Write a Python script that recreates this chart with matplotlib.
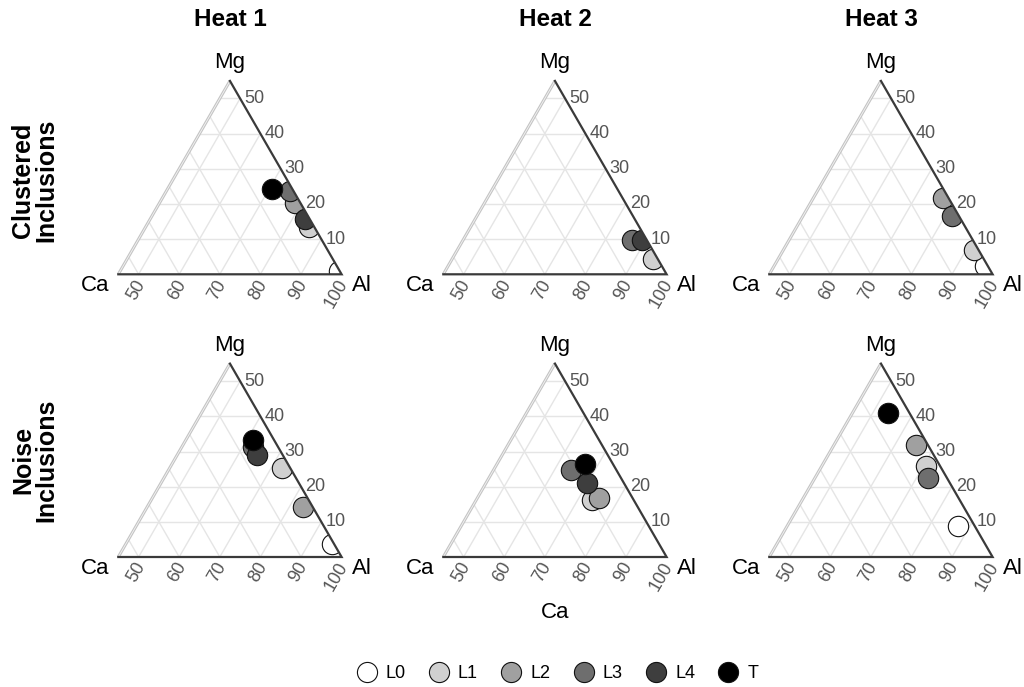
import numpy as np
import matplotlib
matplotlib.use("Agg")
import matplotlib.pyplot as plt
from matplotlib.patches import Polygon
from matplotlib.lines import Line2D

plt.rcParams["font.family"] = ["Liberation Sans", "DejaVu Sans"]

# ---- data: (Ca, Al, Mg) composition in %, one entry per level; None = no inclusion
levels = ["L0", "L1", "L2", "L3", "L4", "T"]
level_colors = ["#ffffff", "#d0d0d0", "#a0a0a0", "#6e6e6e", "#3e3e3e", "#000000"]

heats = ["Heat 1", "Heat 2", "Heat 3"]
rows = ["Clustered\nInclusions", "Noise\nInclusions"]

clustered_heat1 = [(0.2, 99.0, 0.8), (1.2, 85.3, 13.5), (1.2, 78.4, 20.4),
                   (0.8, 75.4, 23.8), (1.2, 83.2, 15.6), (5.1, 70.6, 24.3)]
clustered_heat2 = [None, (1.1, 94.5, 4.4), None,
                   (3.7, 86.5, 9.8), (1.2, 89.0, 9.8), None]
clustered_heat3 = [(0.7, 96.9, 2.4), (1.1, 92.0, 6.9), (1.5, 76.9, 21.6),
                   (1.6, 81.7, 16.7), None, None]
noise_heat1 = [(0.5, 95.7, 3.8), (2.1, 72.5, 25.4), (2.5, 83.3, 14.2),
               (6.2, 62.5, 31.3), (6.5, 64.6, 28.9), (5.1, 61.7, 33.2)]
noise_heat2 = [None, (10.4, 73.5, 16.1), (8.2, 75.0, 16.8),
               (11.2, 64.0, 24.8), (9.0, 70.0, 21.0), (6.9, 66.6, 26.5)]
noise_heat3 = [(4.0, 87.1, 8.9), (3.4, 70.6, 26.0), (2.9, 65.2, 31.9),
               (4.7, 72.8, 22.5), None, (5.2, 53.8, 41.0)]

panels = [[clustered_heat1, clustered_heat2, clustered_heat3],
          [noise_heat1, noise_heat2, noise_heat3]]

al_ticks = [50, 60, 70, 80, 90, 100]
mg_ticks = [10, 20, 30, 40, 50]

# zoomed ternary region: Al >= 45, Mg <= 55, Ca <= 55
AL_MIN, SPAN = 45.0, 55.0
H = np.sqrt(3) / 2


def tern_xy(ca, al, mg):
    tot = ca + al + mg
    al, mg = al * 100 / tot, mg * 100 / tot
    a = (al - AL_MIN) / SPAN
    m = mg / SPAN
    return a + m / 2, m * H


# ---- figure layout
W, HGT = 1024, 687
fig = plt.figure(figsize=(W / 100, HGT / 100), dpi=100)
S = 223.3  # pixels per unit triangle edge
corner_x = [118.3, 443.3, 769.3]
corner_y = [274.3, 557.0]
XL, XR, YB, YT = -0.3, 1.3, -0.25, 1.05

grid_col = "#e5e5e5"
edge_col = "#3a3a3a"
tick_col = "#555555"

for r in range(2):
    for c in range(3):
        cx, cy = corner_x[c], corner_y[r]
        ax = fig.add_axes([(cx + XL * S) / W, (HGT - cy + YB * S) / HGT,
                           (XR - XL) * S / W, (YT - YB) * S / HGT])
        ax.set_xlim(XL, XR)
        ax.set_ylim(YB, YT)
        ax.axis("off")

        # grid lines at every 10 %
        for v in [10, 20, 30, 40, 50]:
            # constant Mg
            p, q = tern_xy(55 - v, 45, v), tern_xy(0, 100 - v, v)
            ax.plot([p[0], q[0]], [p[1], q[1]], color=grid_col, lw=1.0, zorder=1)
            # constant Ca
            p, q = tern_xy(v, 100 - v, 0), tern_xy(v, 45, 55 - v)
            ax.plot([p[0], q[0]], [p[1], q[1]], color=grid_col, lw=1.0, zorder=1)
        for v in [50, 60, 70, 80, 90]:
            # constant Al
            p, q = tern_xy(100 - v, v, 0), tern_xy(0, v, 100 - v)
            ax.plot([p[0], q[0]], [p[1], q[1]], color=grid_col, lw=1.0, zorder=1)

        # triangle edges
        ca_pt, al_pt, mg_pt = tern_xy(55, 45, 0), tern_xy(0, 100, 0), tern_xy(0, 45, 55)
        ax.plot([ca_pt[0], mg_pt[0]], [ca_pt[1], mg_pt[1]], color="#c4c4c4", lw=2.2, zorder=2,
                solid_capstyle="butt")
        ax.plot([ca_pt[0], mg_pt[0]], [ca_pt[1], mg_pt[1]], color="#f4f4f4", lw=0.6, zorder=2)
        ax.plot([ca_pt[0], al_pt[0], mg_pt[0]], [ca_pt[1], al_pt[1], mg_pt[1]],
                color=edge_col, lw=1.6, zorder=4, solid_joinstyle="miter")

        clip = Polygon([ca_pt, al_pt, mg_pt], closed=True, transform=ax.transData,
                       facecolor="none", edgecolor="none")
        ax.add_patch(clip)

        # points
        for lvl, col, comp in zip(levels, level_colors, panels[r][c]):
            if comp is None:
                continue
            x, y = tern_xy(*comp)
            sc = ax.scatter([x], [y], s=215, facecolor=col, edgecolor="#111111",
                            linewidth=0.8, zorder=3)
            sc.set_clip_path(clip)

        # tick labels
        for v in al_ticks:
            x, y = tern_xy(100 - v, v, 0)
            ax.text(x + 0.012, y - 0.03, str(v), rotation=60, rotation_mode="anchor",
                    ha="right", va="center", fontsize=13, color=tick_col)
        for v in mg_ticks:
            x, y = tern_xy(0, 100 - v, v)
            ax.text(x + 0.018, y, str(v), ha="left", va="center",
                    fontsize=13, color=tick_col)

        # vertex labels
        ax.text(mg_pt[0], mg_pt[1] + 0.035, "Mg", ha="center", va="bottom", fontsize=16)
        ax.text(ca_pt[0] - 0.04, -0.05, "Ca", ha="right", va="center", fontsize=16)
        ax.text(al_pt[0] + 0.045, -0.05, "Al", ha="left", va="center", fontsize=16)

# column titles
for c, name in enumerate(heats):
    fig.text((corner_x[c] + S / 2) / W, 1 - 19 / HGT, name, ha="center", va="center",
             fontsize=17.5, fontweight="bold")

# row labels
for r, (name, yc) in enumerate(zip(rows, [180, 460])):
    fig.text(35 / W, 1 - yc / HGT, name, rotation=90, ha="center", va="center",
             fontsize=18, fontweight="bold", linespacing=0.95, multialignment="center")

# shared axis title
fig.text(555 / W, 1 - 612 / HGT, "Ca", ha="center", va="center", fontsize=16)

# legend
handles = [Line2D([], [], marker="o", linestyle="none", markersize=14.5,
                  markerfacecolor=col, markeredgecolor="#111111", markeredgewidth=0.8)
           for col in level_colors]
fig.legend(handles, levels, loc="center", bbox_to_anchor=(557 / W, 1 - 674 / HGT),
           ncol=6, frameon=False, fontsize=13, handletextpad=0.45, columnspacing=1.25,
           handlelength=1.2)

fig.savefig("out.png", dpi=100, facecolor="white")
